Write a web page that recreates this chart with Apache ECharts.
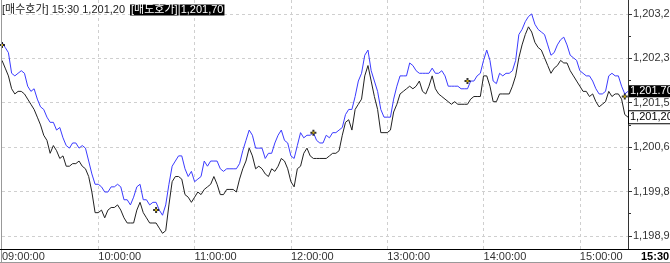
<!DOCTYPE html>
<html><head><meta charset="utf-8">
<script src="https://cdn.jsdelivr.net/npm/echarts@6/dist/echarts.min.js"></script>
<style>html,body{margin:0;padding:0;background:#fff}#c{width:670px;height:263px}</style>
</head><body><div id="c"></div>
<script>
// categories: 2-minute samples 09:00 .. 15:30
const timeCategories = [];
for (let m = 9 * 60; m <= 15 * 60 + 30; m += 2) {
  const h = Math.floor(m / 60), mm = m % 60;
  timeCategories.push(String(h).padStart(2, '0') + ':' + String(mm).padStart(2, '0'));
}
const xTickCats = ['09:00', '10:00', '11:00', '12:00', '13:00', '14:00', '15:00'];
const xTickLabels = ['09:00:00', '10:00:00', '11:00:00', '12:00:00', '13:00:00', '14:00:00', '15:00:00'];
const closeCat = '15:30';
const closeLabel = '15:30';

const yTickValues = [1198.9, 1199.76, 1200.62, 1201.48, 1202.34, 1203.2];
const yTickLabels = ['1,198,9', '1,199,8', '1,200,6', '1,201,5', '1,202,3', '1,203,2'];
const yMinorValues = [1199.33, 1200.19, 1201.05, 1201.91, 1202.77];
const yMin = 1198.646, yMax = 1203.47;

// ask (blue) and bid (black) quotes
const askSeries = [
1202.65,1202.55,1202.45,1202.05,1202.00,1202.05,1202.10,1202.05,1201.80,1201.70,
1201.75,1201.55,1201.40,1201.35,1201.20,1201.10,1201.10,1200.95,1201.00,1200.80,
1200.65,1200.60,1200.70,1200.70,1200.60,1200.65,1200.60,1200.35,1200.10,1199.90,
1199.90,1199.85,1199.75,1199.75,1199.85,1199.85,1199.90,1199.85,1199.60,1199.60,
1199.50,1199.65,1199.85,1199.90,1199.60,1199.60,1199.50,1199.55,1199.55,1199.40,
1199.30,1199.50,1199.90,1200.25,1200.35,1200.45,1200.45,1200.20,1200.05,1200.15,
1199.95,1200.00,1200.05,1200.35,1200.25,1200.35,1200.35,1200.35,1200.20,1200.15,
1200.20,1200.20,1200.20,1200.20,1200.30,1200.55,1200.75,1200.95,1200.85,1200.60,
1200.60,1200.60,1200.40,1200.50,1200.50,1200.70,1200.85,1200.95,1200.75,1200.70,
1200.45,1200.40,1200.65,1200.90,1200.80,1200.85,1200.85,1200.90,1200.75,1200.70,
1200.70,1200.85,1200.80,1200.90,1200.90,1200.95,1201.00,1201.25,1201.35,1201.35,
1201.60,1201.90,1202.05,1202.40,1202.50,1202.10,1201.90,1201.70,1201.35,1201.20,
1201.20,1201.20,1201.55,1201.80,1202.00,1202.00,1202.00,1202.25,1202.20,1202.10,
1202.05,1202.05,1202.05,1202.05,1202.15,1202.05,1202.05,1202.10,1202.00,1201.80,
1201.80,1201.80,1201.80,1201.75,1201.75,1201.75,1201.90,1201.90,1202.00,1202.05,
1202.30,1202.50,1202.30,1201.90,1201.85,1202.05,1202.00,1202.05,1202.05,1202.10,
1202.30,1202.80,1202.90,1203.05,1203.15,1203.20,1203.00,1202.90,1202.85,1202.80,
1202.60,1202.40,1202.45,1202.60,1202.70,1202.75,1202.60,1202.40,1202.35,1202.30,
1202.10,1202.05,1202.00,1202.00,1201.90,1201.75,1201.65,1201.65,1201.70,1202.00,
1202.05,1202.00,1202.00,1201.80,1201.65,1201.70
];
const bidSeries = [
1202.30,1202.15,1202.00,1201.75,1201.65,1201.70,1201.70,1201.65,1201.55,1201.45,
1201.35,1201.20,1201.05,1200.85,1200.75,1200.50,1200.65,1200.55,1200.40,1200.45,
1200.25,1200.25,1200.30,1200.30,1200.35,1200.25,1200.20,1200.05,1199.75,1199.35,
1199.35,1199.40,1199.25,1199.40,1199.45,1199.45,1199.50,1199.40,1199.25,1199.15,
1199.15,1199.15,1199.40,1199.55,1199.35,1199.25,1199.15,1199.15,1199.15,1199.05,
1198.95,1199.00,1199.50,1199.95,1200.05,1200.05,1200.00,1199.70,1199.65,1199.55,
1199.65,1199.75,1199.70,1199.80,1199.85,1199.90,1200.05,1199.90,1199.70,1199.70,
1199.80,1199.80,1199.80,1199.75,1200.00,1200.20,1200.35,1200.60,1200.45,1200.20,
1200.25,1200.20,1200.10,1200.05,1200.20,1200.15,1200.25,1200.40,1200.35,1200.20,
1199.95,1199.85,1200.20,1200.25,1200.50,1200.60,1200.45,1200.40,1200.40,1200.40,
1200.40,1200.40,1200.45,1200.50,1200.50,1200.55,1200.85,1201.10,1201.15,1200.95,
1201.35,1201.45,1201.55,1202.00,1202.20,1201.90,1201.60,1201.35,1200.90,1200.90,
1200.90,1200.95,1201.30,1201.45,1201.65,1201.70,1201.75,1201.80,1201.75,1201.80,
1201.90,1201.70,1201.65,1201.80,1202.00,1201.75,1201.65,1201.60,1201.55,1201.50,
1201.45,1201.50,1201.45,1201.45,1201.45,1201.45,1201.55,1201.60,1201.60,1201.60,
1202.00,1202.00,1201.80,1201.50,1201.50,1201.65,1201.65,1201.65,1201.65,1201.80,
1202.00,1202.35,1202.60,1202.80,1202.95,1202.85,1202.65,1202.55,1202.50,1202.35,
1202.20,1202.05,1202.15,1202.20,1202.30,1202.25,1202.25,1202.10,1202.00,1201.90,
1201.80,1201.70,1201.70,1201.60,1201.65,1201.50,1201.40,1201.45,1201.50,1201.70,
1201.60,1201.65,1201.65,1201.55,1201.25,1201.20
];
const markerIdx = [0, 48, 97, 145, 194];
const markerValues = [1202.60, 1199.40, 1200.90, 1201.90, 1201.60];

const askLastLabel = '1,201.70';
const bidLastLabel = '1,201,20';
const headerBid = '[매수호가] 15:30 1,201,20';
const headerAskTag = '[매도호가]';
const headerAskVal = '1,201,70';

const FONT = "'Liberation Sans', 'Noto Sans CJK KR', sans-serif";
const chart = echarts.init(document.getElementById('c'), null, { renderer: 'canvas' });
const markerData = markerIdx.map((i, k) => [i, markerValues[k]]);

chart.setOption({
  animation: false,
  backgroundColor: '#fff',
  title: {
    text: '{a|' + headerBid + '} {b|' + headerAskTag + '}{g| }{b|' + headerAskVal + '}',
    left: 2, top: 1, padding: 0,
    textStyle: {
      fontWeight: 'normal',
      rich: {
        a: { fontSize: 11, color: '#222', fontWeight: 'normal', fontFamily: FONT, lineHeight: 13 },
        b: { fontSize: 11, color: '#fff', fontWeight: 'normal', backgroundColor: '#000', fontFamily: FONT, lineHeight: 13, padding: [0, 1, 0, 1] },
        g: { fontSize: 11, width: 1 }
      }
    }
  },
  grid: { left: 2, right: 42, top: 0, bottom: 14, containLabel: false, outerBoundsMode: 'none' },
  xAxis: {
    type: 'category', data: timeCategories, boundaryGap: false,
    axisLine: { show: false },
    axisTick: { show: false },
    axisLabel: {
      interval: (i, v) => xTickCats.includes(v) || v === closeCat,
      formatter: (v) => {
        const k = xTickCats.indexOf(v);
        if (k >= 0) return xTickLabels[k];
        if (v === closeCat) return '{b|' + closeLabel + '}';
        return '';
      },
      align: 'left', margin: 2, fontSize: 11, color: '#333', fontFamily: FONT,
      rich: { b: { fontSize: 11, fontWeight: 'bold', color: '#000', fontFamily: FONT, padding: [0, 0, 0, 13] } }
    },
    splitLine: {
      show: true,
      interval: (i, v) => xTickCats.includes(v) && v !== '09:00',
      lineStyle: { color: '#cfcfcf', type: [3, 3], width: 1 }
    }
  },
  yAxis: [{
    type: 'value', position: 'right', min: yMin, max: yMax,
    axisLine: { show: true, lineStyle: { color: '#333', width: 1 } },
    axisTick: { show: true, inside: false, length: 4, customValues: yTickValues, lineStyle: { color: '#333' } },
    axisLabel: {
      customValues: yTickValues, margin: 5, fontSize: 11, color: '#333', fontFamily: FONT,
      formatter: (v) => {
        for (let k = 0; k < yTickValues.length; k++) if (Math.abs(yTickValues[k] - v) < 1e-6) return yTickLabels[k];
        return '';
      }
    },
    splitLine: { show: true, lineStyle: { color: '#cfcfcf', type: [3, 3], width: 1 } }
  }, {
    type: 'value', position: 'right', min: yMin, max: yMax,
    axisLine: { show: false },
    axisTick: { show: true, inside: false, length: 3, customValues: yMinorValues, lineStyle: { color: '#333' } },
    axisLabel: { show: false },
    splitLine: { show: false }
  }],
  series: [{
    name: 'ask', type: 'line', data: askSeries, showSymbol: false, z: 3,
    lineStyle: { color: '#3b3bff', width: 1 },
    endLabel: {
      show: true, formatter: askLastLabel, distance: 1, color: '#fff', backgroundColor: '#000',
      fontSize: 11, fontFamily: FONT, padding: [1, 1, 0, 1]
    }
  }, {
    name: 'bid', type: 'line', data: bidSeries, showSymbol: false, z: 2,
    lineStyle: { color: '#222', width: 1 },
    endLabel: {
      show: true, formatter: bidLastLabel, distance: 1, color: '#000', backgroundColor: '#fff',
      borderColor: '#000', borderWidth: 1, fontSize: 11, fontFamily: FONT, padding: [1, 1, 0, 1]
    }
  }, {
    name: 'mark', type: 'scatter', data: markerData, z: 5,
    symbol: 'path://M2,0h2v2h2v2h-2v2h-2v-2h-2v-2h2z', symbolSize: 6,
    itemStyle: { color: '#000' }, silent: true
  }, {
    name: 'markDot', type: 'scatter', data: markerData, z: 6,
    symbol: 'rect', symbolSize: 2, itemStyle: { color: '#ffd400' }, silent: true
  }],
  graphic: [
    { type: 'line', shape: { x1: 1.5, y1: 0, x2: 1.5, y2: 263 }, style: { stroke: '#999', lineWidth: 1 }, z: 10 },
    { type: 'line', shape: { x1: 0, y1: 249.5, x2: 670, y2: 249.5 }, style: { stroke: '#000', lineWidth: 1 }, z: 10 },
    { type: 'line', shape: { x1: 0, y1: 262.5, x2: 670, y2: 262.5 }, style: { stroke: '#999', lineWidth: 1 }, z: 10 }
  ]
});
</script></body></html>
